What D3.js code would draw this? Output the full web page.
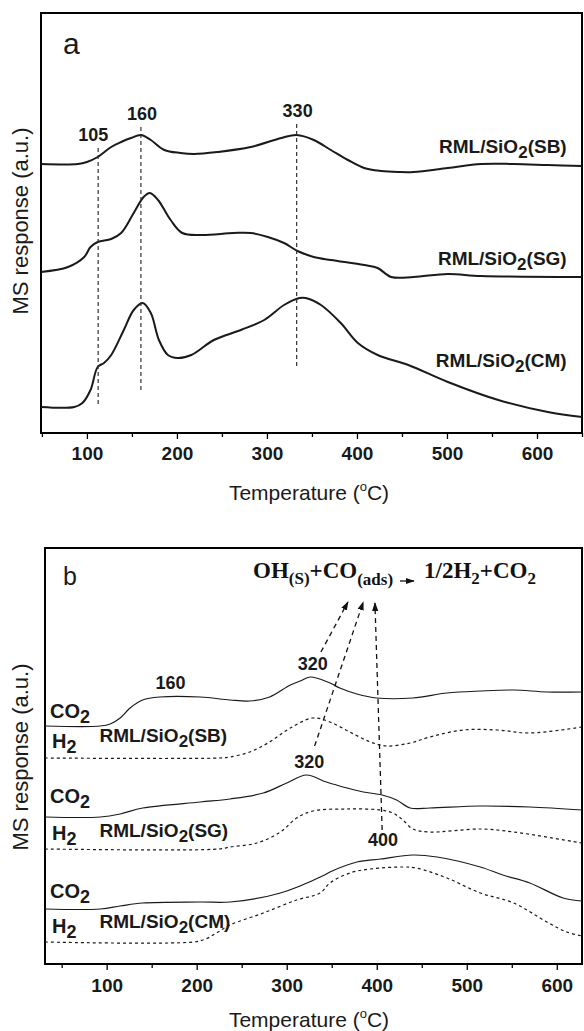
<!DOCTYPE html>
<html>
<head>
<meta charset="utf-8">
<script src="https://cdn.jsdelivr.net/npm/d3@7"></script>
<style>
  body { margin: 0; background: #fff; }
  svg { display: block; }
</style>
</head>
<body>
<script>
// panel a: MS response vs temperature, [T (°C), a.u.]
const aSB = [[49,269],[90,269],[100,271],[112,276],[127,286],[138,291],[149,295],[160,298],[171,293],[186,283],[204,280],[219,279],[245,281],[282,286],[316,295],[333,298],[352,293],[371,283],[390,273],[408,265],[427,262],[446,261],[463,261],[501,265],[538,269],[574,269],[612,268],[650,267]];
const aSG = [[49,161],[79,166],[97,176],[104,186],[112,191],[127,194],[138,200],[152,220],[163,236],[170,240],[179,233],[193,213],[206,200],[227,198],[263,200],[282,200],[301,196],[319,190],[334,182],[352,176],[371,173],[408,168],[423,165],[438,156],[463,156],[501,159],[538,157],[650,156]];
const aCM = [[49,26],[86,26],[95,30],[104,43],[112,66],[119,70],[127,78],[141,103],[152,123],[162,130],[171,120],[180,93],[190,78],[201,75],[216,78],[241,93],[271,103],[297,113],[319,128],[336,135],[343,135],[360,128],[382,110],[401,90],[423,78],[457,68],[501,51],[557,33],[612,21],[650,16]];

// peak markers in panel a: [label, T, top, bottom]
const peaksA = [["105", 112.5, 285, 26], ["160", 160, 306, 40], ["330", 333, 309, 66]];
const namesA = [["SB", 280], ["SG", 168], ["CM", 66]];

// panel b: CO2 (solid) and H2 (dashed)
const bCO2_SB = [[31.5,238],[93,238],[104,240],[115,246],[126,256],[140,264],[159,267],[204,267],[237,264],[259,263],[281,267],[304,279],[315,283],[326,287],[348,281],[359,276],[378,270],[400,266],[440,266],[478,271],[515,273],[552,274],[589,272],[628,272]];
const bH2_SB = [[31.5,206],[225,206],[237,207],[259,212],[281,222],[304,236],[329,246],[348,242],[370,232],[393,222],[411,218],[437,221],[459,227],[496,234],[534,234],[570,231],[628,237]];
const bCO2_SG = [[31.5,147],[93,147],[115,150],[140,156],[204,162],[237,165],[274,171],[300,181],[322,189],[344,182],[367,176],[385,172],[406,169],[422,164],[437,156],[459,156],[515,158],[570,157],[628,154]];
const bH2_SG = [[31.5,115],[225,115],[237,117],[267,121],[293,132],[311,146],[329,153],[367,155],[404,154],[418,151],[429,144],[440,135],[459,132],[515,135],[552,132],[628,121]];
const bCO2_CM = [[31.5,55],[93,55],[115,58],[140,61],[204,62],[237,62],[293,71],[342,89],[348,92],[378,102],[404,105],[440,109],[467,107],[515,97],[540,89],[570,81],[607,66],[628,63]];
const bH2_CM = [[31.5,22],[196,22],[210,25],[222,31],[237,39],[274,51],[311,64],[337,71],[348,81],[370,91],[393,95],[429,97],[444,96],[478,86],[515,71],[552,61],[589,42],[611,32],[628,28]];

// peak labels panel b: [label, T, a.u.]
const peaksB = [["160", 171, 275], ["320", 329, 294], ["320", 325, 196], ["400", 407, 118]];
// dashed arrows panel b: [T0, v0, T1, v1]
const arrowsB = [[338, 312, 368, 362], [331, 218, 385, 362], [406, 134, 398, 361]];
// gas / sample labels panel b: [name, CO2 v, H2 v, sample v]
const namesB = [["SB", 246, 216, 222], ["SG", 161, 124, 127], ["CM", 66, 31, 36]];

const majorTicks = [100, 200, 300, 400, 500, 600];
const minorTicks = [50, 150, 250, 350, 450, 550, 650];

const width = 584, height = 1031;
const sans = "'Liberation Sans', Arial, Helvetica, sans-serif";
const serif = "'Liberation Serif', 'Times New Roman', serif";

const svg = d3.select("body").append("svg")
  .attr("width", width).attr("height", height)
  .attr("font-family", sans);

svg.append("defs").append("marker")
  .attr("id", "head")
  .attr("viewBox", "0 0 10 10")
  .attr("refX", 9).attr("refY", 5)
  .attr("markerWidth", 9).attr("markerHeight", 9)
  .attr("markerUnits", "userSpaceOnUse")
  .attr("orient", "auto")
  .append("path").attr("d", "M0,1.5L10,5L0,8.5Z").attr("fill", "#111");

function subText(g, x, y, parts, size, anchor) {
  const t = g.append("text")
    .attr("x", x).attr("y", y)
    .attr("font-size", size).attr("font-weight", "bold")
    .attr("fill", "#1a1a1a")
    .attr("text-anchor", anchor || "start");
  let low = false;
  parts.forEach(([s, sub]) => {
    const ts = t.append("tspan").text(s);
    if (sub && !low) { ts.attr("dy", 5).attr("font-size", size - 2); low = true; }
    else if (!sub && low) { ts.attr("dy", -5); low = false; }
  });
  return t;
}

function panel(x, y, top, bottom, left, right, axisPad) {
  const g = svg.append("g");
  g.append("g").attr("transform", `translate(0,${bottom})`)
    .call(d3.axisBottom(x).tickValues(minorTicks.filter(d => d >= x.domain()[0] && d <= x.domain()[1]))
      .tickSize(4).tickFormat(""))
    .call(a => a.select(".domain").remove())
    .call(a => a.selectAll("line").attr("stroke-width", 1.3));
  g.append("g").attr("transform", `translate(0,${bottom})`)
    .call(d3.axisBottom(x).tickValues(majorTicks).tickSize(6).tickPadding(axisPad))
    .call(a => a.select(".domain").remove())
    .call(a => a.selectAll("line").attr("stroke-width", 1.3))
    .call(a => a.selectAll("text")
      .attr("font-family", sans).attr("font-size", 19)
      .attr("font-weight", "bold").attr("fill", "#1a1a1a"));
  g.append("rect")
    .attr("x", left).attr("y", top)
    .attr("width", right - left).attr("height", bottom - top)
    .attr("fill", "none").attr("stroke", "#000").attr("stroke-width", 2);
  return g;
}

const curve = d3.curveCatmullRom.alpha(0.5);

// ---------- panel a ----------
const xA = d3.scaleLinear([49, 650], [41, 582]);
const yA = d3.scaleLinear([0, 420], [433, 13]);
const gA = panel(xA, yA, 13, 433, 41, 582, 8);
const lineA = d3.line().x(d => xA(d[0])).y(d => yA(d[1])).curve(curve);

[aSB, aSG, aCM].forEach(s => {
  gA.append("path").attr("d", lineA(s))
    .attr("fill", "none").attr("stroke", "#1a1a1a").attr("stroke-width", 2);
});

peaksA.forEach(([lab, t, v0, v1], i) => {
  gA.append("line")
    .attr("x1", xA(t)).attr("x2", xA(t))
    .attr("y1", yA(v0)).attr("y2", yA(v1))
    .attr("stroke", "#333").attr("stroke-width", 1.2)
    .attr("stroke-dasharray", "4,3");
  gA.append("text")
    .attr("x", xA(t) + (i === 0 ? -5 : 1)).attr("y", yA(v0) - 7)
    .attr("text-anchor", "middle")
    .attr("font-size", 18).attr("font-weight", "bold").attr("fill", "#1a1a1a")
    .text(lab);
});

namesA.forEach(([n, v]) => {
  subText(gA, xA(633), yA(v), [["RML/SiO", 0], ["2", 1], [`(${n})`, 0]], 19, "end");
});

gA.append("text").attr("x", 63).attr("y", 54)
  .attr("font-size", 30).attr("fill", "#1a1a1a").text("a");

svg.append("text")
  .attr("transform", "translate(28,221) rotate(-90)")
  .attr("text-anchor", "middle").attr("font-size", 22).attr("fill", "#1a1a1a")
  .text("MS response (a.u.)");

function xTitle(y) {
  const t = svg.append("text").attr("x", 309).attr("y", y)
    .attr("text-anchor", "middle").attr("font-size", 21).attr("fill", "#1a1a1a");
  t.append("tspan").text("Temperature (");
  t.append("tspan").text("o").attr("font-size", 13).attr("dy", -9);
  t.append("tspan").text("C)").attr("dy", 9);
}
xTitle(500);

// ---------- panel b ----------
const xB = d3.scaleLinear([31.5, 628], [45, 582]);
const yB = d3.scaleLinear([0, 416], [964, 548]);
const gB = panel(xB, yB, 548, 964, 45, 582, 9);
const lineB = d3.line().x(d => xB(d[0])).y(d => yB(d[1])).curve(curve);

[bCO2_SB, bCO2_SG, bCO2_CM].forEach(s => {
  gB.append("path").attr("d", lineB(s))
    .attr("fill", "none").attr("stroke", "#1a1a1a").attr("stroke-width", 1.2);
});
[bH2_SB, bH2_SG, bH2_CM].forEach(s => {
  gB.append("path").attr("d", lineB(s))
    .attr("fill", "none").attr("stroke", "#1a1a1a").attr("stroke-width", 1.2)
    .attr("stroke-dasharray", "3,3");
});

arrowsB.forEach(([t0, v0, t1, v1]) => {
  gB.append("line")
    .attr("x1", xB(t0)).attr("y1", yB(v0))
    .attr("x2", xB(t1)).attr("y2", yB(v1))
    .attr("stroke", "#111").attr("stroke-width", 1.3)
    .attr("stroke-dasharray", "5,4")
    .attr("marker-end", "url(#head)");
});

peaksB.forEach(([lab, t, v]) => {
  gB.append("text")
    .attr("x", xB(t)).attr("y", yB(v))
    .attr("text-anchor", "middle")
    .attr("font-size", 18).attr("font-weight", "bold").attr("fill", "#1a1a1a")
    .text(lab);
});

namesB.forEach(([n, vc, vh, vs]) => {
  subText(gB, 50, yB(vc), [["CO", 0], ["2", 1]], 20);
  subText(gB, 52, yB(vh), [["H", 0], ["2", 1]], 20);
  subText(gB, xB(92), yB(vs), [["RML/SiO", 0], ["2", 1], [`(${n})`, 0]], 19);
});

// reaction annotation
const eq1 = gB.append("text").attr("x", 253).attr("y", 578)
  .attr("font-family", serif).attr("font-weight", "bold")
  .attr("font-size", 23).attr("fill", "#111");
eq1.append("tspan").text("OH");
eq1.append("tspan").text("(S)").attr("font-size", 17).attr("dy", 6);
eq1.append("tspan").text("+CO").attr("dy", -6);
eq1.append("tspan").text("(ads)").attr("font-size", 17).attr("dy", 7);

gB.append("line")
  .attr("x1", 400).attr("x2", 414).attr("y1", 581).attr("y2", 581)
  .attr("stroke", "#111").attr("stroke-width", 1.3)
  .attr("marker-end", "url(#head)");

const eq2 = gB.append("text").attr("x", 424).attr("y", 578)
  .attr("font-family", serif).attr("font-weight", "bold")
  .attr("font-size", 23).attr("fill", "#111");
eq2.append("tspan").text("1/2H");
eq2.append("tspan").text("2").attr("font-size", 17).attr("dy", 6);
eq2.append("tspan").text("+CO").attr("dy", -6);
eq2.append("tspan").text("2").attr("font-size", 17).attr("dy", 6);

gB.append("text").attr("x", 63).attr("y", 585)
  .attr("font-size", 25).attr("fill", "#1a1a1a").text("b");

svg.append("text")
  .attr("transform", "translate(28,757) rotate(-90)")
  .attr("text-anchor", "middle").attr("font-size", 22).attr("fill", "#1a1a1a")
  .text("MS response (a.u.)");

xTitle(1027);
</script>
</body>
</html>
